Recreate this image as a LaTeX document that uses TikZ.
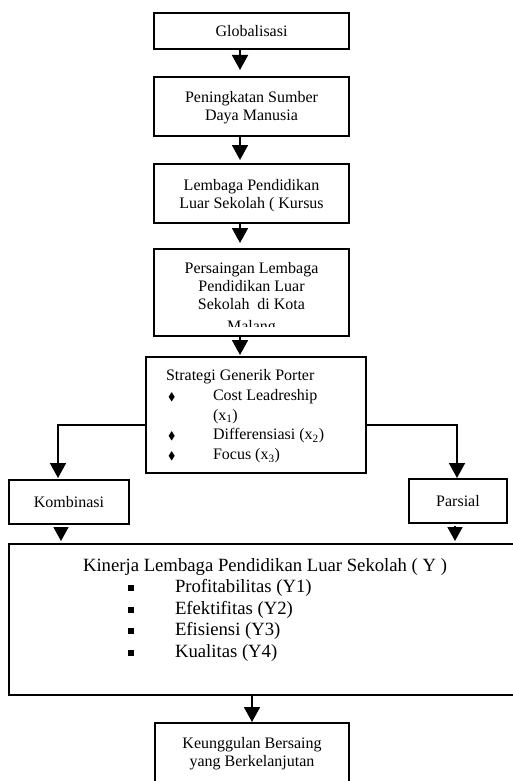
\documentclass[tikz,border=0pt]{standalone}
\usepackage{fontspec}
\setmainfont{Liberation Serif}
\usepackage{amssymb}
\usetikzlibrary{arrows.meta}
\newcommand\mlc[1]{\begin{tabular}{@{}c@{}}#1\end{tabular}}
\newcommand\dbul{\makebox[47pt][l]{\hspace*{2pt}{\fontsize{11}{11}\selectfont$\blacklozenge$}}}
\newcommand\sbul{\makebox[92pt][l]{\hspace*{45pt}\rule[1.5pt]{6pt}{6pt}}}
\begin{document}
\begin{tikzpicture}[x=1pt,y=-1pt,
  box/.style={draw, line width=1.8pt, rectangle, inner sep=0pt, outer sep=0pt,
    font=\fontsize{16}{18}\selectfont},
  conn/.style={line width=1.8pt, -{Triangle[width=16pt,length=15pt]}},
  sconn/.style={line width=1.8pt, -{Triangle[width=15pt,length=14pt]}},
  txt/.style={font=\fontsize{16}{18}\selectfont, inner sep=0pt, outer sep=0pt},
]
\useasboundingbox (0,0) rectangle (512,781);

% boxes
\node[box, minimum width=195pt, minimum height=36pt] (b1) at (251.5,31) {Globalisasi};
\node[box, minimum width=195pt, minimum height=59pt] (b2) at (251.5,106.5) {};
\node[box, minimum width=195pt, minimum height=59pt] (b3) at (251.5,193.5) {};
\node[box, minimum width=195pt, minimum height=87pt] (b4) at (251.5,292.5) {};
\node[box, minimum width=220pt, minimum height=116pt] (b5) at (256,415) {};
\node[box, minimum width=120pt, minimum height=44pt] (k) at (69,502) {Kombinasi};
\node[box, minimum width=98pt, minimum height=44pt] (p) at (458,501) {Parsial};
\node[box, minimum width=507pt, minimum height=151pt] (big) at (262.5,619.5) {};
\node[box, minimum width=194pt, minimum height=72pt] (fin) at (252,759) {};

% texts
\node[txt, anchor=north] (t2) at (251.5,90) {\mlc{Peningkatan Sumber\\Daya Manusia}};
\node[txt, anchor=north] (t3) at (251.5,177.5) {\mlc{Lembaga Pendidikan\\Luar Sekolah ( Kursus}};
\begin{scope}
  \clip (154,250) rectangle (349,326.7);
  \node[txt, anchor=north] (t4) at (251.5,260.4) {\mlc{Persaingan Lembaga\\Pendidikan Luar\\Sekolah \ di Kota\\[4pt]Malang}};
\end{scope}
\node[txt, anchor=north west] (t5) at (166,366.7) {\renewcommand\arraystretch{1.1}%
  \begin{tabular}{@{}l@{}l@{}}
  \multicolumn{2}{@{}l@{}}{Strategi Generik Porter}\\
  \dbul & Cost Leadreship\\
   & (x\textsubscript{1})\\
  \dbul & Differensiasi (x\textsubscript{2})\\
  \dbul & Focus (x\textsubscript{3})
  \end{tabular}};
\node[inner sep=0pt, outer sep=0pt, anchor=north west, font=\fontsize{18.7}{21.5}\selectfont] (t6) at (83,556.2) {%
  \begin{tabular}{@{}l@{}l@{}}
  \multicolumn{2}{@{}l@{}}{Kinerja Lembaga Pendidikan Luar Sekolah ( Y )}\\
  \sbul & Profitabilitas (Y1)\\
  \sbul & Efektifitas (Y2)\\
  \sbul & Efisiensi (Y3)\\
  \sbul & Kualitas (Y4)
  \end{tabular}};
\node[txt, anchor=north] (t7) at (252,736) {\mlc{Keunggulan Bersaing\\yang Berkelanjutan}};

% connectors
\coordinate (ax) at (240,0);
\coordinate (ly) at (0,425);
\coordinate (lx) at (58,0);
\coordinate (rx) at (457,0);
\coordinate (kx) at (61,0);
\coordinate (px) at (455,0);
\coordinate (fx) at (252,0);
\draw[conn, shorten >=7pt] (b1.south -| ax) -- (b2.north -| ax);
\draw[conn, shorten >=4pt] (b2.south -| ax) -- (b3.north -| ax);
\draw[conn, shorten >=6pt] (b3.south -| ax) -- (b4.north -| ax);
\draw[conn, shorten >=2pt] (b4.south -| ax) -- (b5.north -| ax);
\draw[conn, shorten >=2pt] (b5.west |- ly) -| (k.north -| lx);
\draw[conn, shorten >=1pt] (b5.east |- ly) -| (p.north -| rx);
\draw[sconn, shorten <=3pt, shorten >=3pt] (k.south -| kx) -- (big.north -| kx);
\draw[sconn, shorten <=3pt, shorten >=3pt] (p.south -| px) -- (big.north -| px);
\draw[conn, shorten >=1pt] (big.south -| fx) -- (fin.north -| fx);
\end{tikzpicture}
\end{document}
